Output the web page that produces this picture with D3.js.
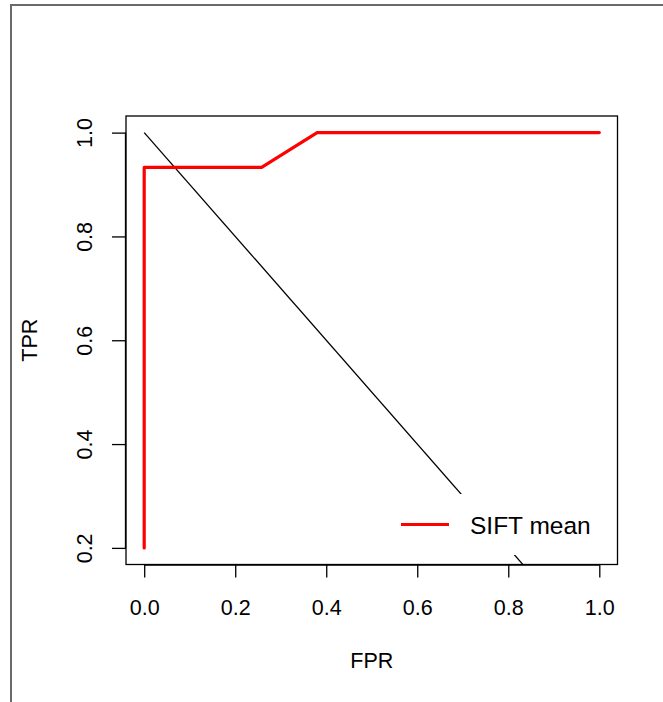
<!DOCTYPE html>
<html>
<head>
  <title>ROC curve</title>
  <meta charset="utf-8">
  <script type="text/javascript" src="https://d3js.org/d3.v7.min.js"></script>
  <style>
    body { margin: 0; background: #fff; }
    text { font-family: "Liberation Sans", Arial, sans-serif; fill: #000; }
  </style>
</head>
<body>
  <div><svg id="chart" width="663" height="702"></svg></div>

  <script type="text/javascript">
    "use strict";

    // ROC curve points
    var fpr = [0, 0, 0.258, 0.38, 1.0];
    var tpr = [0.2, 0.933, 0.933, 1.0, 1.0];
    // reference diagonal (from (0,1) to (1,0))
    var diagX = [0, 1];
    var diagY = [1, 0];
    var xTicks = [0, 0.2, 0.4, 0.6, 0.8, 1.0];
    var yTicks = [0.2, 0.4, 0.6, 0.8, 1.0];
    var legendLabels = ['SIFT mean'];

    // plot box in pixels (R style, domain padded by 4%)
    var box = { left: 126, right: 617.5, top: 116, bottom: 564.5 };

    var svg = d3.select('#chart');

    // outer frame of the screenshot
    svg.append('path')
       .attr('d', 'M11,702 L11,5 L663,5')
       .attr('fill', 'none')
       .attr('stroke', '#6a6a6a')
       .attr('stroke-width', 2);

    var x = d3.scaleLinear()
              .domain([-0.04, 1.04])
              .range([box.left, box.right]);
    var y = d3.scaleLinear()
              .domain([0.2 - 0.032, 1.0 + 0.032])
              .range([box.bottom, box.top]);

    svg.append('clipPath').attr('id', 'plotclip')
       .append('rect')
       .attr('x', box.left).attr('y', box.top)
       .attr('width', box.right - box.left)
       .attr('height', box.bottom - box.top);

    var plot = svg.append('g').attr('clip-path', 'url(#plotclip)');

    var line = d3.line()
                 .x(function(d) { return x(d[0]); })
                 .y(function(d) { return y(d[1]); });

    // diagonal
    plot.append('path')
        .datum(d3.zip(diagX, diagY))
        .attr('d', line)
        .attr('fill', 'none')
        .attr('stroke', '#000')
        .attr('stroke-width', 1.3);

    // ROC curve
    plot.append('path')
        .datum(d3.zip(fpr, tpr))
        .attr('d', line)
        .attr('fill', 'none')
        .attr('stroke', '#ff0000')
        .attr('stroke-width', 3.2)
        .attr('stroke-linecap', 'round')
        .attr('stroke-linejoin', 'round');

    // legend (white background, no border) at bottom right
    var lg = svg.append('g');
    lg.append('rect')
      .attr('x', 385).attr('y', 494)
      .attr('width', 222).attr('height', 61)
      .attr('fill', '#fff');
    lg.selectAll('.lg-line')
      .data(legendLabels)
      .enter().append('line')
      .attr('x1', 401).attr('x2', 449)
      .attr('y1', function(d, i) { return 524.5 + i * 30; })
      .attr('y2', function(d, i) { return 524.5 + i * 30; })
      .attr('stroke', '#ff0000')
      .attr('stroke-width', 3.2);
    lg.selectAll('.lg-text')
      .data(legendLabels)
      .enter().append('text')
      .attr('x', 470)
      .attr('y', function(d, i) { return 533.5 + i * 30; })
      .attr('font-size', 24.5)
      .text(function(d) { return d; });

    // box
    svg.append('rect')
       .attr('x', box.left).attr('y', box.top)
       .attr('width', box.right - box.left)
       .attr('height', box.bottom - box.top)
       .attr('fill', 'none')
       .attr('stroke', '#000')
       .attr('stroke-width', 1.3);

    // axes
    var xAxis = svg.append('g')
      .attr('transform', 'translate(0,' + box.bottom + ')')
      .call(d3.axisBottom(x).tickValues(xTicks).tickFormat(d3.format('.1f'))
              .tickSize(13).tickPadding(22));
    xAxis.select('.domain')
      .attr('d', 'M' + x(xTicks[0]) + ',0.5H' + x(xTicks[xTicks.length - 1]))
      .attr('stroke-width', 1.3);
    xAxis.selectAll('.tick line').attr('stroke-width', 1.3);
    xAxis.selectAll('text')
      .attr('font-size', 21.5)
      .attr('font-family', '"Liberation Sans", Arial, sans-serif')
      .attr('fill', '#000');

    var yAxis = svg.append('g')
      .attr('transform', 'translate(' + box.left + ',0)')
      .call(d3.axisLeft(y).tickValues(yTicks).tickFormat(d3.format('.1f'))
              .tickSize(14));
    yAxis.select('.domain')
      .attr('d', 'M-0.5,' + y(yTicks[0]) + 'V' + y(yTicks[yTicks.length - 1]))
      .attr('stroke-width', 1.3);
    yAxis.selectAll('.tick line').attr('stroke-width', 1.3);
    yAxis.selectAll('text')
      .attr('x', null).attr('dy', null)
      .attr('text-anchor', 'middle')
      .attr('transform', 'translate(-34,0) rotate(-90)')
      .attr('font-size', 21.5)
      .attr('font-family', '"Liberation Sans", Arial, sans-serif')
      .attr('fill', '#000');

    // axis titles
    svg.append('text')
       .attr('x', (box.left + box.right) / 2)
       .attr('y', 668)
       .attr('text-anchor', 'middle')
       .attr('font-size', 21.5)
       .text('FPR');
    svg.append('text')
       .attr('transform', 'translate(37,' + (box.top + box.bottom) / 2 + ') rotate(-90)')
       .attr('text-anchor', 'middle')
       .attr('font-size', 21.5)
       .text('TPR');
  </script>
</body>
</html>
